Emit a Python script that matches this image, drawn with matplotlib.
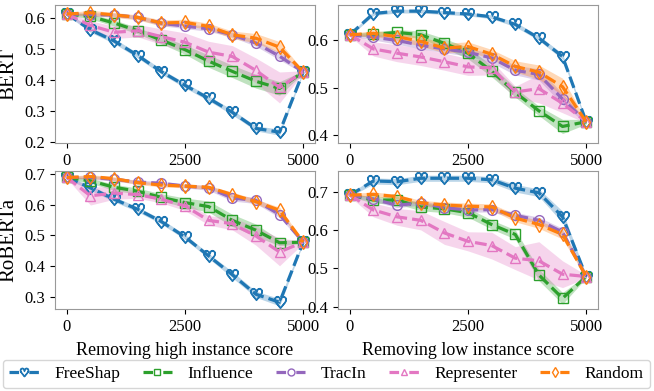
import numpy as np
import matplotlib.pyplot as plt
from matplotlib.lines import Line2D

plt.rcParams["font.family"] = ["Liberation Serif", "DejaVu Serif"]

x = [0, 500, 1000, 1500, 2000, 2500, 3000, 3500, 4000, 4500, 5000]
methods = ["FreeShap", "Influence", "TracIn", "Representer", "Random"]
colors = ["#1f77b4", "#2ca02c", "#9467bd", "#e377c2", "#ff7f0e"]
markers = [r"$\heartsuit$", "s", "o", "^", "d"]

# BERT, removing high score
bert_high = {
    "FreeShap": [0.614, 0.563, 0.527, 0.480, 0.428, 0.384, 0.342, 0.297, 0.245, 0.233, 0.427],
    "Influence": [0.614, 0.606, 0.585, 0.560, 0.530, 0.499, 0.462, 0.429, 0.397, 0.374, 0.427],
    "TracIn": [0.614, 0.612, 0.611, 0.603, 0.584, 0.575, 0.566, 0.547, 0.520, 0.478, 0.427],
    "Representer": [0.614, 0.577, 0.555, 0.560, 0.541, 0.523, 0.491, 0.477, 0.432, 0.377, 0.427],
    "Random": [0.614, 0.618, 0.611, 0.603, 0.585, 0.587, 0.574, 0.547, 0.536, 0.507, 0.427],
}
bert_high_std = {
    "FreeShap": [0.004, 0.008, 0.008, 0.008, 0.008, 0.008, 0.008, 0.008, 0.008, 0.010, 0.004],
    "Influence": [0.004, 0.008, 0.010, 0.010, 0.012, 0.015, 0.020, 0.020, 0.022, 0.022, 0.004],
    "TracIn": [0.004, 0.006, 0.006, 0.006, 0.008, 0.008, 0.008, 0.008, 0.010, 0.012, 0.004],
    "Representer": [0.004, 0.015, 0.020, 0.020, 0.025, 0.030, 0.035, 0.035, 0.040, 0.050, 0.004],
    "Random": [0.004, 0.008, 0.008, 0.008, 0.010, 0.010, 0.010, 0.012, 0.015, 0.018, 0.004],
}

# BERT, removing low score
bert_low = {
    "FreeShap": [0.612, 0.657, 0.662, 0.662, 0.659, 0.656, 0.650, 0.634, 0.605, 0.566, 0.428],
    "Influence": [0.612, 0.613, 0.617, 0.612, 0.594, 0.573, 0.535, 0.490, 0.451, 0.418, 0.428],
    "TracIn": [0.612, 0.607, 0.600, 0.590, 0.582, 0.575, 0.563, 0.537, 0.528, 0.476, 0.428],
    "Representer": [0.612, 0.582, 0.573, 0.565, 0.555, 0.544, 0.542, 0.491, 0.498, 0.467, 0.428],
    "Random": [0.612, 0.615, 0.608, 0.598, 0.584, 0.587, 0.571, 0.545, 0.533, 0.502, 0.428],
}
bert_low_std = {
    "FreeShap": [0.003, 0.004, 0.004, 0.004, 0.004, 0.004, 0.004, 0.005, 0.005, 0.006, 0.003],
    "Influence": [0.003, 0.005, 0.006, 0.008, 0.010, 0.012, 0.012, 0.010, 0.010, 0.015, 0.005],
    "TracIn": [0.003, 0.006, 0.008, 0.008, 0.008, 0.008, 0.010, 0.010, 0.012, 0.012, 0.003],
    "Representer": [0.003, 0.015, 0.018, 0.018, 0.018, 0.018, 0.015, 0.012, 0.030, 0.020, 0.003],
    "Random": [0.003, 0.006, 0.008, 0.010, 0.010, 0.010, 0.010, 0.012, 0.015, 0.018, 0.003],
}

# RoBERTa, removing high score
roberta_high = {
    "FreeShap": [0.689, 0.655, 0.618, 0.585, 0.545, 0.495, 0.433, 0.372, 0.308, 0.282, 0.478],
    "Influence": [0.689, 0.678, 0.657, 0.644, 0.624, 0.607, 0.594, 0.549, 0.517, 0.476, 0.478],
    "TracIn": [0.689, 0.689, 0.683, 0.674, 0.670, 0.661, 0.655, 0.622, 0.614, 0.568, 0.478],
    "Representer": [0.689, 0.629, 0.638, 0.633, 0.618, 0.596, 0.549, 0.538, 0.498, 0.446, 0.478],
    "Random": [0.689, 0.692, 0.685, 0.672, 0.664, 0.661, 0.657, 0.633, 0.610, 0.582, 0.478],
}
roberta_high_std = {
    "FreeShap": [0.004, 0.008, 0.008, 0.008, 0.008, 0.008, 0.008, 0.010, 0.010, 0.012, 0.004],
    "Influence": [0.004, 0.008, 0.010, 0.010, 0.012, 0.015, 0.018, 0.020, 0.020, 0.010, 0.004],
    "TracIn": [0.004, 0.006, 0.006, 0.006, 0.006, 0.006, 0.008, 0.010, 0.010, 0.010, 0.004],
    "Representer": [0.004, 0.030, 0.020, 0.012, 0.012, 0.015, 0.015, 0.020, 0.030, 0.045, 0.004],
    "Random": [0.004, 0.006, 0.006, 0.006, 0.006, 0.006, 0.006, 0.008, 0.008, 0.010, 0.004],
}

# RoBERTa, removing low score
roberta_low = {
    "FreeShap": [0.692, 0.729, 0.727, 0.736, 0.736, 0.736, 0.732, 0.710, 0.698, 0.635, 0.479],
    "Influence": [0.692, 0.679, 0.679, 0.661, 0.656, 0.646, 0.615, 0.589, 0.483, 0.422, 0.479],
    "TracIn": [0.692, 0.682, 0.665, 0.672, 0.659, 0.653, 0.654, 0.639, 0.626, 0.595, 0.479],
    "Representer": [0.692, 0.653, 0.635, 0.626, 0.593, 0.571, 0.560, 0.527, 0.520, 0.485, 0.479],
    "Random": [0.692, 0.694, 0.688, 0.672, 0.666, 0.663, 0.661, 0.632, 0.615, 0.589, 0.479],
}
roberta_low_std = {
    "FreeShap": [0.004, 0.008, 0.008, 0.008, 0.008, 0.008, 0.008, 0.010, 0.010, 0.015, 0.004],
    "Influence": [0.004, 0.008, 0.010, 0.010, 0.010, 0.012, 0.012, 0.012, 0.015, 0.015, 0.004],
    "TracIn": [0.004, 0.006, 0.006, 0.006, 0.006, 0.006, 0.006, 0.008, 0.008, 0.010, 0.004],
    "Representer": [0.004, 0.018, 0.022, 0.025, 0.030, 0.025, 0.035, 0.030, 0.050, 0.035, 0.004],
    "Random": [0.004, 0.006, 0.006, 0.006, 0.008, 0.008, 0.008, 0.010, 0.010, 0.012, 0.004],
}

fig = plt.figure(figsize=(6.54, 3.91), dpi=100)
w, h = 260 / 654, 138 / 391
ax_tl = fig.add_axes([55 / 654, 1 - 143 / 391, w, h])
ax_tr = fig.add_axes([338 / 654, 1 - 143 / 391, w, h])
ax_bl = fig.add_axes([55 / 654, 1 - 309 / 391, w, h])
ax_br = fig.add_axes([338 / 654, 1 - 309 / 391, w, h])

panels = [
    (ax_tl, bert_high, bert_high_std, (0.198, 0.643), [0.2, 0.3, 0.4, 0.5, 0.6]),
    (ax_tr, bert_low, bert_low_std, (0.383, 0.675), [0.4, 0.5, 0.6]),
    (ax_bl, roberta_high, roberta_high_std, (0.26, 0.71), [0.3, 0.4, 0.5, 0.6, 0.7]),
    (ax_br, roberta_low, roberta_low_std, (0.394, 0.755), [0.4, 0.5, 0.6, 0.7]),
]

for ax, data, std, ylim, yticks in panels:
    for m, c, mk in zip(methods, colors, markers):
        y = np.array(data[m])
        s = np.array(std[m])
        ax.fill_between(x, y - s, y + s, color=c, alpha=0.3, linewidth=0)
        ms = 8.5 if m == "FreeShap" else 7
        ax.plot(x, y, linestyle="--", color=c, linewidth=2.3, marker=mk,
                markersize=ms, markerfacecolor="none", markeredgewidth=1.0, label=m)
    ax.set_xlim(-250, 5250)
    ax.set_ylim(*ylim)
    ax.set_xticks([0, 2500, 5000])
    ax.set_yticks(yticks)
    ax.tick_params(labelsize=12)
    for sp in ax.spines.values():
        sp.set_color("#999999")

ax_tl.set_ylabel("BERT", fontsize=15)
ax_bl.set_ylabel("RoBERTa", fontsize=15)
ax_bl.set_xlabel("Removing high instance score", fontsize=13, labelpad=5)
ax_br.set_xlabel("Removing low instance score", fontsize=13, labelpad=5)

# legend handles: short dashes so the gap sits around the marker
handles = [Line2D([], [], color=c, linestyle=(0, (3, 3.2)), linewidth=2.3, marker=mk,
                  markersize=(6 if m == "FreeShap" else 5), markerfacecolor="none",
                  markeredgewidth=1.0)
           for m, c, mk in zip(methods, colors, markers)]
fig.legend(handles, methods, loc="lower left", bbox_to_anchor=(3 / 654, 3 / 391, 647 / 654, 28 / 391),
           mode="expand", ncol=5, fontsize=12.5, handlelength=1.7,
           borderpad=0.35, handletextpad=0.9, frameon=True, borderaxespad=0)

fig.savefig("out.png", dpi=100)
